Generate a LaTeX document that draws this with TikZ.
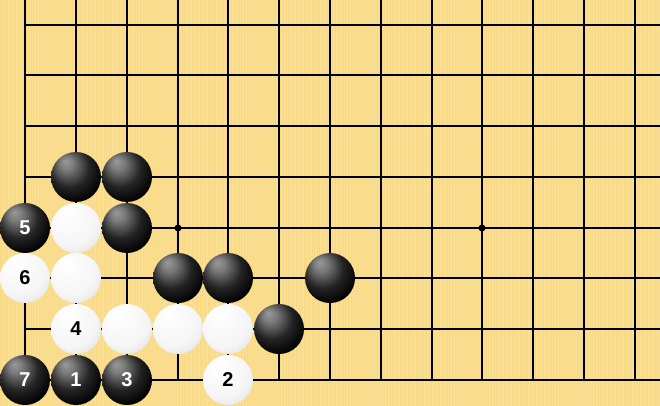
\documentclass[tikz,border=0pt]{standalone}
\usepackage{fontspec}
\setmainfont{Liberation Sans}
\newfontfamily\stonefont{Liberation Sans}[BoldFont={Liberation Sans Bold}]
\definecolor{board}{RGB}{250,222,145}
\definecolor{stripe}{RGB}{244,209,120}
\pgfdeclareradialshading{blackstone}{\pgfpoint{-11bp}{16bp}}{color(0bp)=(black!40); color(7bp)=(black!52); color(20bp)=(black!86); color(32bp)=(black); color(46bp)=(black); color(52bp)=(black!78)}
\pgfdeclareradialshading{whitestone}{\pgfpoint{-11bp}{16bp}}{color(0bp)=(white); color(26bp)=(black!4); color(42bp)=(black!16); color(52bp)=(black!36)}
\newcommand{\stonelabelfont}{\stonefont\bfseries\fontsize{20}{20}\selectfont}
\tikzset{
  gridline/.style={line width=1.6pt, black},
  stone/.style={circle, inner sep=0pt, minimum size=50pt, font=\stonelabelfont},
  bstone/.style={stone, shading=blackstone, text=white},
  wstone/.style={stone, shading=whitestone, text=black},
  hoshi/.style={circle, fill=black, inner sep=0pt, minimum size=7pt}
}
\newcommand{\gx}[1]{round(25.3+50.78*#1)}
\newcommand{\gy}[1]{round(380-50.78*#1)}
\begin{document}
\begin{tikzpicture}[x=1pt,y=-1pt]
\useasboundingbox (0,0) rectangle (660,406);
\fill[board] (0,0) rectangle (660,406);
\foreach \s in {0,2.6,...,660} {
  \draw[stripe, line width=0.8pt, opacity=0.45] (\s,0) -- (\s,406);
}
% grid
\foreach \i in {0,...,12} {
  \draw[gridline] ({\gx{\i}},0) -- ({\gx{\i}},{\gy{0}});
}
\foreach \j in {0,...,7} {
  \draw[gridline] ({\gx{0}},{\gy{\j}}) -- (660,{\gy{\j}});
}
% star points
\node[hoshi] (h1) at ({\gx{3}},{\gy{3}}) {};
\node[hoshi] (h2) at ({\gx{9}},{\gy{3}}) {};
% black stones
\node[bstone] (b41) at ({\gx{1}},{\gy{4}}) {};
\node[bstone] (b42) at ({\gx{2}},{\gy{4}}) {};
\node[bstone] (b5)  at ({\gx{0}},{\gy{3}}) {5};
\node[bstone] (b32) at ({\gx{2}},{\gy{3}}) {};
\node[bstone] (b23) at ({\gx{3}},{\gy{2}}) {};
\node[bstone] (b24) at ({\gx{4}},{\gy{2}}) {};
\node[bstone] (b26) at ({\gx{6}},{\gy{2}}) {};
\node[bstone] (b15) at ({\gx{5}},{\gy{1}}) {};
\node[bstone] (b7)  at ({\gx{0}},{\gy{0}}) {7};
\node[bstone] (b1)  at ({\gx{1}},{\gy{0}}) {1};
\node[bstone] (b3)  at ({\gx{2}},{\gy{0}}) {3};
% white stones
\node[wstone] (w31) at ({\gx{1}},{\gy{3}}) {};
\node[wstone] (w6)  at ({\gx{0}},{\gy{2}}) {6};
\node[wstone] (w21) at ({\gx{1}},{\gy{2}}) {};
\node[wstone] (w4)  at ({\gx{1}},{\gy{1}}) {4};
\node[wstone] (w12) at ({\gx{2}},{\gy{1}}) {};
\node[wstone] (w13) at ({\gx{3}},{\gy{1}}) {};
\node[wstone] (w14) at ({\gx{4}},{\gy{1}}) {};
\node[wstone] (w2)  at ({\gx{4}},{\gy{0}}) {2};
\end{tikzpicture}
\end{document}
